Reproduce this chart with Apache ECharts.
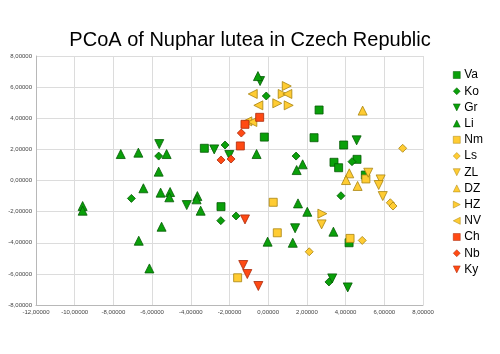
<!DOCTYPE html>
<html>
<head>
<meta charset="utf-8">
<script src="https://cdn.jsdelivr.net/npm/echarts@6/dist/echarts.min.js"></script>
<style>
  html, body { margin: 0; padding: 0; background: #fff; }
  #chart { width: 500px; height: 354px; }
</style>
</head>
<body>
<div id="chart"></div>
<script>
// groups, in legend order
var groups = ['Va', 'Ko', 'Gr', 'Li', 'Nm', 'Ls', 'ZL', 'DZ', 'HZ', 'NV', 'Ch', 'Nb', 'Ky']

// PCoA coordinates [axis1, axis2]
var Va = [[-3.30, 2.07], [-0.20, 2.79], [2.63, 4.53], [2.37, 2.75], [-2.44, -1.68], [3.90, 2.28],
  [3.40, 1.17], [3.64, 0.82], [4.59, 1.36], [5.02, 0.35], [4.18, -4.00]]
var Ko = [[-5.66, 1.57], [-7.07, -1.15], [-0.10, 5.43], [-2.23, 2.28], [1.44, 1.57], [-2.45, -2.58],
  [-1.66, -2.28], [4.33, 1.21], [3.76, -0.98], [3.14, -6.52]]
var Gr = [[-5.63, 2.34], [-0.42, 6.39], [-2.79, 2.00], [-2.01, 1.64], [-4.21, -1.58], [1.39, -3.07],
  [4.57, 2.58], [3.31, -6.29], [4.11, -6.87]]
var Li = [[-7.62, 1.70], [-6.71, 1.79], [-5.25, 1.70], [-5.66, 0.57], [-6.45, -0.50], [-5.56, -0.78],
  [-5.07, -0.74], [-5.11, -1.08], [-9.59, -1.64], [-9.59, -1.94], [-5.51, -2.97], [-6.69, -3.87],
  [-6.14, -5.65], [-0.53, 6.71], [-0.60, 1.70], [1.78, 1.04], [1.47, 0.67], [-3.66, -1.00],
  [-3.70, -1.21], [-3.49, -1.94], [1.54, -1.47], [2.02, -2.01], [-0.03, -3.93], [1.27, -4.00], [3.37, -3.29]]
var Nm = [[0.26, -1.40], [0.47, -3.36], [-1.58, -6.25], [4.23, -3.72], [5.05, 0.10]]
var Ls = [[6.95, 2.07], [6.31, -1.43], [6.45, -1.64], [2.12, -4.58], [4.86, -3.85]]
var ZL = [[5.17, 0.50], [5.81, 0.07], [5.71, -0.29], [5.92, -1.00], [2.76, -2.82]]
var DZ = [[4.88, 4.49], [4.19, 0.46], [4.02, 0.03], [4.62, -0.35]]
var HZ = [[0.96, 6.07], [0.75, 5.56], [0.47, 4.96], [1.06, 4.83], [2.80, -2.13]]
var NV = [[-0.80, 5.56], [0.99, 5.56], [-0.51, 4.83], [-1.08, 3.80], [-0.82, 3.76]]
var Ch = [[-0.44, 4.06], [-1.20, 3.61], [-1.44, 2.22]]
var Nb = [[-1.39, 3.05], [-2.44, 1.32], [-1.92, 1.38]]
var Ky = [[-1.20, -2.50], [-1.29, -5.43], [-1.08, -6.01], [-0.51, -6.78]]

var dataMap = { Va: Va, Ko: Ko, Gr: Gr, Li: Li, Nm: Nm, Ls: Ls, ZL: ZL, DZ: DZ, HZ: HZ, NV: NV, Ch: Ch, Nb: Nb, Ky: Ky }

// triangle shapes as paths so the legend icons point the same way
var triUp = 'path://M1,0L2,2L0,2Z'
var triDown = 'path://M0,0L2,0L1,2Z'
var triRight = 'path://M0,0L2,1L0,2Z'
var triLeft = 'path://M2,0L0,1L2,2Z'

// marker style per group: [symbol, size, colours]
var green = ['#0aa00a', '#055a05']
var yellow = ['#ffcc33', '#a88410']
var red = ['#ff4a14', '#a82a0a']
var styleMap = {
  Va: ['rect', 8, green],
  Ko: ['diamond', 8, green],
  Gr: [triDown, 9, green],
  Li: [triUp, 9, green],
  Nm: ['rect', 8, yellow],
  Ls: ['diamond', 8, yellow],
  ZL: [triDown, 9, yellow],
  DZ: [triUp, 9, yellow],
  HZ: [triRight, 9, yellow],
  NV: [triLeft, 9, yellow],
  Ch: ['rect', 8, red],
  Nb: ['diamond', 8, red],
  Ky: [triDown, 9, red]
}

function fmt(v) {
  return v.toFixed(5).replace('.', ',')
}

var series = groups.map(function(g) {
  var s = styleMap[g]
  return {
    name: g,
    type: 'scatter',
    symbol: s[0],
    symbolSize: s[1],
    itemStyle: { color: s[2][0], borderColor: s[2][1], borderWidth: 0.8, opacity: 1 },
    data: dataMap[g]
  }
})

var chart = echarts.init(document.getElementById('chart'))
chart.setOption({
  animation: false,
  backgroundColor: '#fff',
  title: {
    text: 'PCoA of Nuphar lutea in Czech Republic',
    left: 'center',
    top: 25,
    textStyle: { fontFamily: 'Liberation Sans', fontSize: 20, fontWeight: 'normal', color: '#000' }
  },
  legend: {
    orient: 'vertical',
    left: 448,
    top: 64,
    data: groups,
    itemWidth: 7,
    itemHeight: 7,
    itemGap: 4.2,
    itemStyle: { borderWidth: 0.5 },
    textStyle: { fontFamily: 'Liberation Sans', fontSize: 12, color: '#000', padding: [0, 0, 0, -1] }
  },
  grid: { left: 36, right: 77, top: 56, bottom: 49 },
  xAxis: {
    type: 'value',
    min: -12,
    max: 8,
    interval: 2,
    axisLine: { show: true, onZero: false, lineStyle: { color: '#b8b8b8' } },
    axisTick: { show: false },
    splitLine: { lineStyle: { color: '#dcdcdc' } },
    axisLabel: { fontFamily: 'Liberation Sans', fontSize: 6, color: '#444', margin: 4, formatter: fmt }
  },
  yAxis: {
    type: 'value',
    min: -8,
    max: 8,
    interval: 2,
    axisLine: { show: true, onZero: false, lineStyle: { color: '#b8b8b8' } },
    axisTick: { show: false },
    splitLine: { lineStyle: { color: '#dcdcdc' } },
    axisLabel: { fontFamily: 'Liberation Sans', fontSize: 6, color: '#444', margin: 4, formatter: fmt }
  },
  series: series
})
</script>
</body>
</html>
